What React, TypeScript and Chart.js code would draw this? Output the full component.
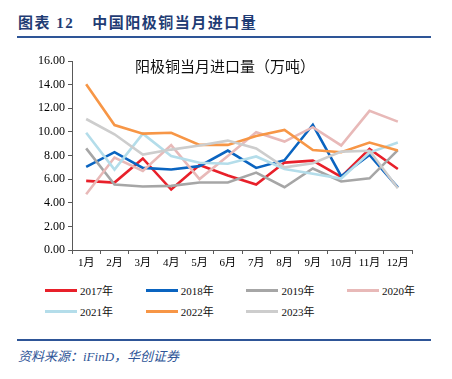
import React, { useEffect, useRef } from "react";
import { Chart, registerables } from "chart.js";

Chart.register(...registerables);

const months = ["1月", "2月", "3月", "4月", "5月", "6月", "7月", "8月", "9月", "10月", "11月", "12月"];
const seriesNames = ["2017年", "2018年", "2019年", "2020年", "2021年", "2022年", "2023年"];
const y2017 = [5.85, 5.71, 7.75, 5.12, 7.2, 6.3, 5.55, 7.4, 7.57, 6.18, 8.56, 6.86];
const y2018 = [7.04, 8.28, 6.95, 6.81, 7.1, 8.42, 6.95, 7.6, 10.6, 6.25, 8.05, 5.3];
const y2019 = [8.6, 5.54, 5.37, 5.43, 5.71, 5.72, 6.55, 5.31, 6.9, 5.8, 6.07, 8.45];
const y2020 = [4.72, 7.83, 6.7, 8.88, 6.0, 7.95, 9.97, 9.18, 10.4, 8.85, 11.78, 10.87];
const y2021 = [9.93, 6.81, 9.85, 7.95, 7.38, 7.3, 7.92, 6.86, 6.45, 6.05, 8.25, 9.1];
const y2022 = [14.03, 10.58, 9.85, 9.93, 8.9, 8.9, 9.66, 10.17, 8.47, 8.28, 9.1, 8.42];
const y2023 = [11.09, 9.8, 8.08, 8.5, 8.85, 9.26, 8.6, 7.0, 7.35, 8.33, 8.4, 5.22];
const yTicks = [0, 2, 4, 6, 8, 10, 12, 14, 16];

const seriesValues = [y2017, y2018, y2019, y2020, y2021, y2022, y2023];
const seriesColors = ["#E8202A", "#0A64C0", "#A6A6A6", "#E8B9B8", "#B4DDEA", "#F79646", "#CDCDCD"];

const serif = '"Liberation Serif", "Times New Roman", "Noto Sans CJK SC", serif';

export default function App() {
  const canvasRef = useRef<HTMLCanvasElement | null>(null);

  useEffect(() => {
    if (!canvasRef.current) return;
    const chart = new Chart(canvasRef.current, {
      type: "line",
      data: {
        labels: months,
        datasets: seriesNames.map((name, i) => ({
          label: name,
          data: seriesValues[i],
          borderColor: seriesColors[i],
          backgroundColor: seriesColors[i],
          borderWidth: 2.6,
          pointRadius: 0,
          tension: 0,
          fill: false,
          order: seriesNames.length - i,
        })),
      },
      options: {
        responsive: false,
        animation: false,
        layout: { padding: { top: 16, left: 29, right: 32, bottom: 10 } },
        plugins: {
          legend: { display: false },
          title: { display: false },
          tooltip: { enabled: false },
        },
        scales: {
          x: {
            type: "category",
            offset: true,
            grid: {
              offset: true,
              drawOnChartArea: false,
              drawTicks: true,
              tickLength: 4,
              color: "#595959",
            },
            border: { display: true, color: "#595959", width: 1 },
            ticks: {
              color: "#000",
              font: { family: serif, size: 11 },
              padding: 3,
              maxRotation: 0,
              autoSkip: false,
            },
            afterFit: (scale: any) => {
              scale.height = 20;
            },
          },
          y: {
            min: 0,
            max: 16,
            afterBuildTicks: (scale: any) => {
              scale.ticks = yTicks.map((v) => ({ value: v }));
            },
            grid: {
              drawOnChartArea: false,
              drawTicks: true,
              tickLength: 4,
              color: "#595959",
            },
            border: { display: true, color: "#595959", width: 1 },
            ticks: {
              color: "#000",
              font: { family: serif, size: 12 },
              padding: 3,
              callback: (v: any) => Number(v).toFixed(2),
            },
            afterFit: (scale: any) => {
              scale.width = 35;
            },
          },
        },
      },
    });
    return () => chart.destroy();
  }, []);

  const navy = "#1F3C74";
  const lineBlue = "#2E5597";

  return (
    <div style={{ position: "relative", width: 436, height: 363, fontFamily: serif }}>
      <div
        style={{
          position: "absolute",
          left: 10,
          top: 6,
          fontSize: 15,
          fontWeight: "bold",
          color: navy,
          whiteSpace: "nowrap",
          fontFamily: '"Liberation Serif", "Noto Sans CJK SC", serif',
          letterSpacing: 1.5,
          lineHeight: "18px",
        }}
      >
        <span>图表 12</span>
        <span style={{ marginLeft: 18 }}>中国阳极铜当月进口量</span>
      </div>
      <div style={{ position: "absolute", left: 9, top: 28, width: 414, height: 2, background: lineBlue }} />

      <div style={{ position: "absolute", left: 0, top: 37, width: 436, height: 235 }}>
        <canvas ref={canvasRef} width={436} height={235} style={{ display: "block" }} />
        <div
          style={{
            position: "absolute",
            left: 124,
            top: 12,
            width: 186,
            textAlign: "center",
            fontSize: 15,
            color: "#111",
            fontFamily: '"Noto Sans CJK SC", sans-serif',
            whiteSpace: "nowrap",
            lineHeight: "18px",
          }}
        >
          阳极铜当月进口量（万吨）
        </div>
      </div>

      {seriesNames.map((name, i) => {
        const col = i % 4;
        const row = Math.floor(i / 4);
        return (
          <div
            key={name}
            style={{
              position: "absolute",
              left: 37 + col * 100.7,
              top: 274 + row * 21,
              height: 16,
              display: "flex",
              alignItems: "center",
              whiteSpace: "nowrap",
            }}
          >
            <div style={{ width: 32, height: 3, background: seriesColors[i] }} />
            <span style={{ marginLeft: 3, fontSize: 11, color: "#111", fontFamily: serif }}>{name}</span>
          </div>
        );
      })}

      <div style={{ position: "absolute", left: 9, top: 331, width: 414, height: 2, background: lineBlue }} />
      <div
        style={{
          position: "absolute",
          left: 10,
          top: 340,
          fontSize: 13,
          fontStyle: "italic",
          color: lineBlue,
          whiteSpace: "nowrap",
          fontFamily: '"Liberation Serif", "Noto Sans CJK SC", serif',
          lineHeight: "18px",
        }}
      >
        资料来源：iFinD，华创证券
      </div>
    </div>
  );
}
